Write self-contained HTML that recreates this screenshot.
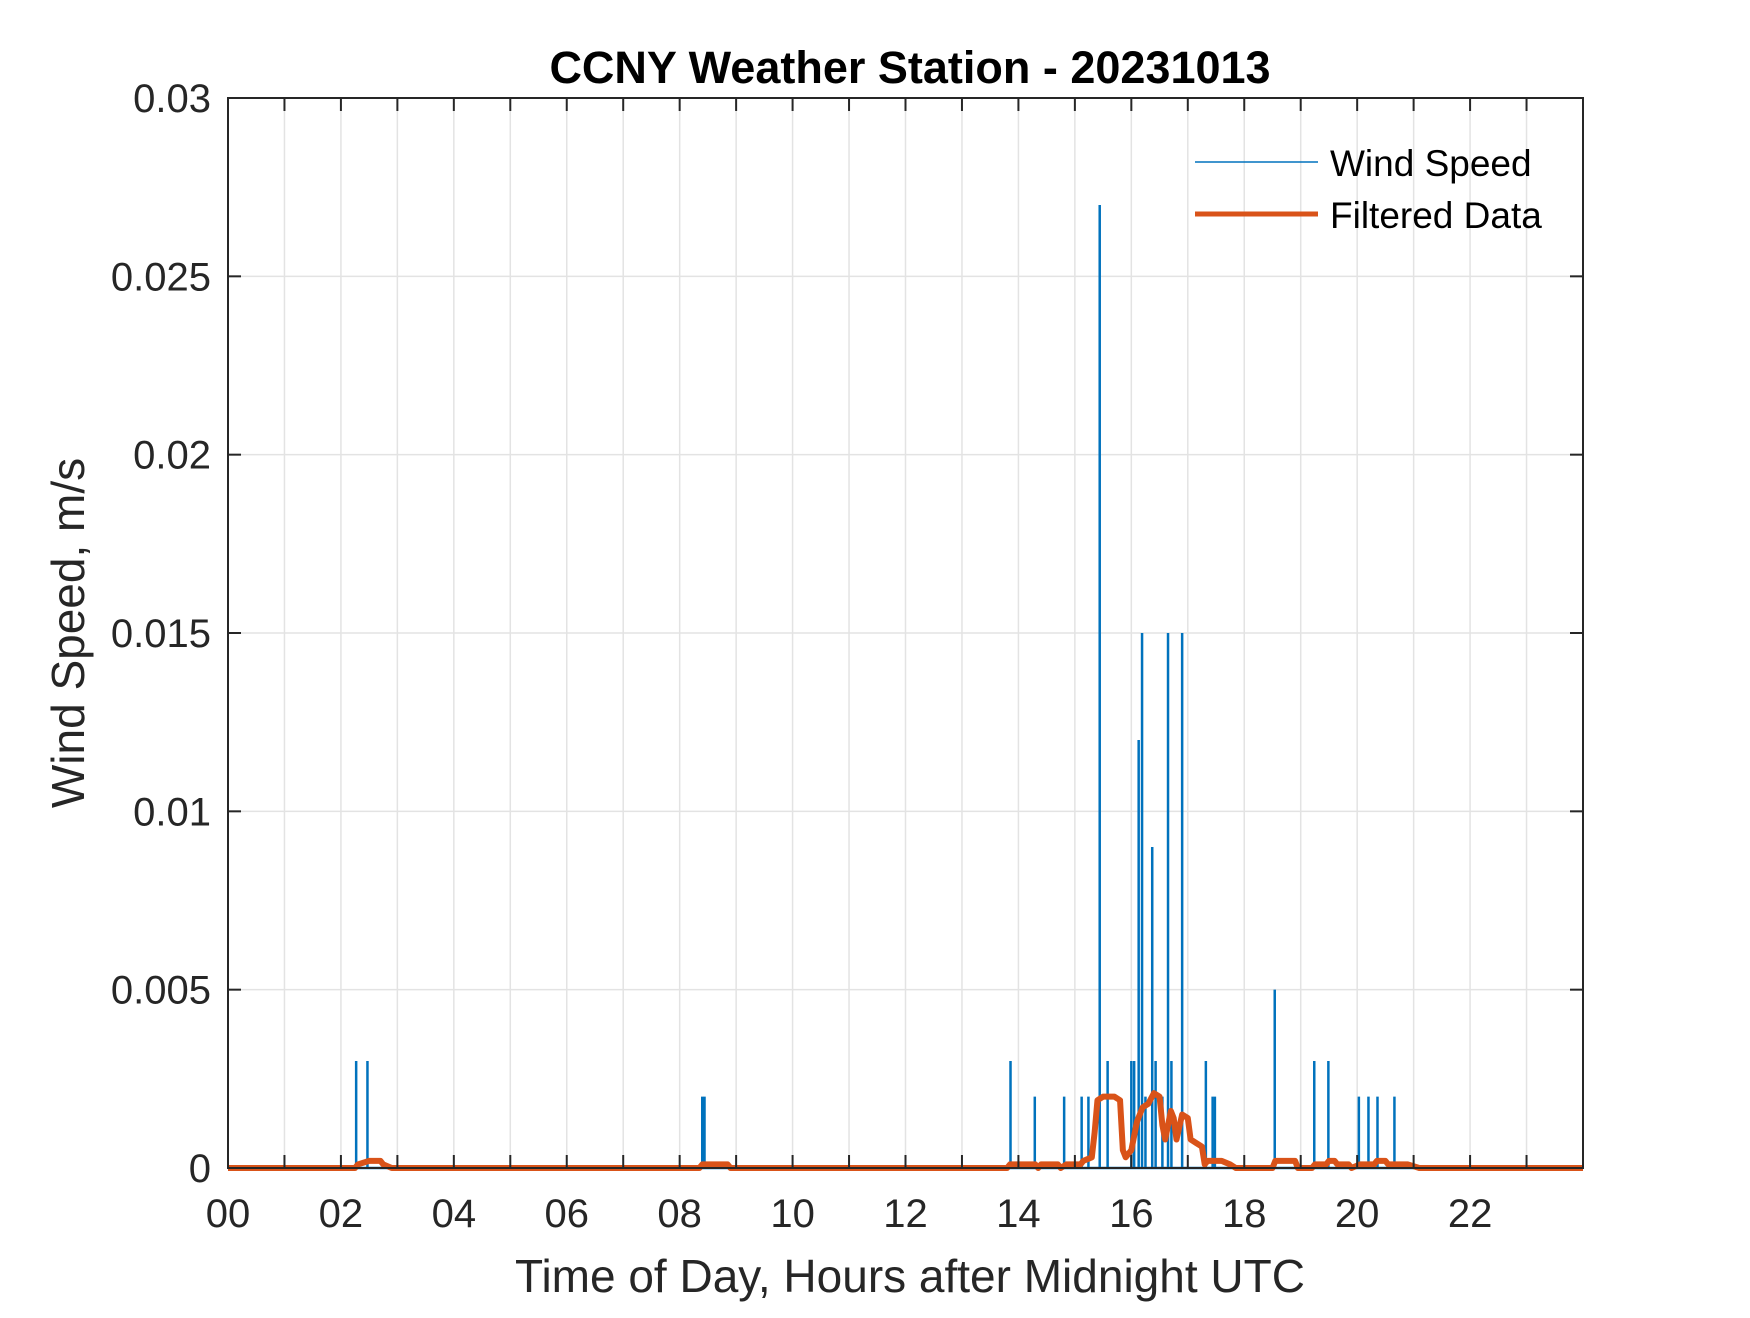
<!DOCTYPE html>
<html><head><meta charset="utf-8"><style>
body{margin:0;background:#fff}
svg text{font-family:"Liberation Sans",Arial,sans-serif;fill:#262626}
</style></head><body>
<svg width="1750" height="1313" viewBox="0 0 1750 1313" id="chart">
<rect width="1750" height="1313" fill="#fff"/>
<g id="grid"></g>
<g id="series"></g>
<g id="axes"></g>
<text x="910" y="83" text-anchor="middle" font-size="45" font-weight="bold" style="fill:#000">CCNY Weather Station - 20231013</text>
<text x="910" y="1292" text-anchor="middle" font-size="46">Time of Day, Hours after Midnight UTC</text>
<text transform="translate(84,633) rotate(-90)" text-anchor="middle" font-size="46">Wind Speed, m/s</text>
<g>
<g><line x1="1195" y1="162" x2="1318" y2="162" stroke="#0072BD" stroke-width="1.5"/><text x="1330" y="176" font-size="37" style="fill:#000">Wind Speed</text></g>
<g><line x1="1195" y1="214" x2="1318" y2="214" stroke="#D95319" stroke-width="5"/><text x="1330" y="228" font-size="37" style="fill:#000">Filtered Data</text></g>
</g>
</svg>
<script>
const xTicks=[0,2,4,6,8,10,12,14,16,18,20,22];
const xTickLabels=["00","02","04","06","08","10","12","14","16","18","20","22"];
const yTicks=[0,0.005,0.01,0.015,0.02,0.025,0.03];
const yTickLabels=["0","0.005","0.01","0.015","0.02","0.025","0.03"];
const spikeHours=[2.27,2.47,8.40,8.44,13.86,14.29,14.81,15.12,15.24,15.44,15.58,16.0,16.05,16.13,16.19,16.25,16.37,16.43,16.55,16.65,16.71,16.90,17.32,17.44,17.48,18.54,19.24,19.49,20.03,20.20,20.36,20.66];
const spikeValues=[0.003,0.003,0.002,0.002,0.003,0.002,0.002,0.002,0.002,0.027,0.003,0.003,0.003,0.012,0.015,0.002,0.009,0.003,0.002,0.015,0.003,0.015,0.003,0.002,0.002,0.005,0.003,0.003,0.002,0.002,0.002,0.002];
const filtHours=[0,2.25,2.3,2.5,2.7,2.75,2.9,8.35,8.4,8.85,8.9,13.8,13.85,14.3,14.35,14.4,14.7,14.75,14.85,15.1,15.15,15.3,15.35,15.4,15.5,15.7,15.8,15.85,15.9,16.0,16.1,16.2,16.3,16.4,16.5,16.55,16.6,16.7,16.75,16.8,16.9,17.0,17.05,17.15,17.25,17.3,17.35,17.6,17.75,17.85,18.5,18.55,18.9,18.95,19.2,19.25,19.45,19.5,19.6,19.65,19.85,19.9,20.05,20.3,20.35,20.5,20.55,20.9,21.1,24];
const filtValues=[0,0,0.0001,0.0002,0.0002,0.0001,0,0,0.0001,0.0001,0,0,0.0001,0.0001,0,0.0001,0.0001,0,0.0001,0.0001,0.0002,0.0003,0.001,0.0019,0.002,0.002,0.0019,0.0005,0.0003,0.0005,0.0013,0.0017,0.0018,0.0021,0.002,0.0012,0.0008,0.0016,0.0014,0.0008,0.0015,0.0014,0.0008,0.0007,0.0006,0.0001,0.0002,0.0002,0.0001,0,0,0.0002,0.0002,0,0,0.0001,0.0001,0.0002,0.0002,0.0001,0.0001,0,0.0001,0.0001,0.0002,0.0002,0.0001,0.0001,0,0];
const L=228,R=1583,T=98,B=1168;
const xs=h=>L+(R-L)*h/24;
const ys=v=>B-(B-T)*v/0.03;
const NS="http://www.w3.org/2000/svg";
function mk(tag,attrs,parent){const e=document.createElementNS(NS,tag);for(const k in attrs)e.setAttribute(k,attrs[k]);parent.appendChild(e);return e;}
const grid=document.getElementById('grid'),series=document.getElementById('series'),axes=document.getElementById('axes');
for(let h=1;h<24;h++){const l=mk('line',{x1:xs(h),x2:xs(h),y1:T,y2:B,stroke:'#e3e3e3','stroke-width':1.5},grid);

}
yTicks.forEach(v=>{const l=mk('line',{x1:L,x2:R,y1:ys(v),y2:ys(v),stroke:'#e3e3e3','stroke-width':1.5},grid);

});
spikeHours.forEach((h,i)=>{const l=mk('line',{x1:xs(h),x2:xs(h),y1:ys(0),y2:ys(spikeValues[i]),stroke:'#0072BD','stroke-width':2.5},series);

});
const base=mk('line',{x1:L,x2:R,y1:ys(0),y2:ys(0),stroke:'#0072BD','stroke-width':2.5},series);


const pts=filtHours.map((h,i)=>xs(h)+','+ys(filtValues[i])).join(' ');
const pl=mk('polyline',{points:pts,fill:'none',stroke:'#D95319','stroke-width':6,'stroke-linejoin':'round'},series);


const box=mk('rect',{x:L,y:T,width:R-L,height:B-T,fill:'none',stroke:'#262626','stroke-width':2},axes);


for(let h=1;h<24;h++){
 mk('line',{x1:xs(h),x2:xs(h),y1:B,y2:B-13,stroke:'#262626','stroke-width':2},axes);
 mk('line',{x1:xs(h),x2:xs(h),y1:T,y2:T+13,stroke:'#262626','stroke-width':2},axes);}
yTicks.forEach((v,i)=>{
 mk('line',{x1:L,x2:L+13,y1:ys(v),y2:ys(v),stroke:'#262626','stroke-width':2},axes);
 mk('line',{x1:R,x2:R-13,y1:ys(v),y2:ys(v),stroke:'#262626','stroke-width':2},axes);
 const t=mk('text',{x:L-17,y:ys(v)+14,'text-anchor':'end','font-size':40},axes);t.textContent=yTickLabels[i];
 
 });
xTicks.forEach((h,i)=>{const t=mk('text',{x:xs(h),y:B+59,'text-anchor':'middle','font-size':40},axes);t.textContent=xTickLabels[i];
 
 });
</script>
</body></html>
